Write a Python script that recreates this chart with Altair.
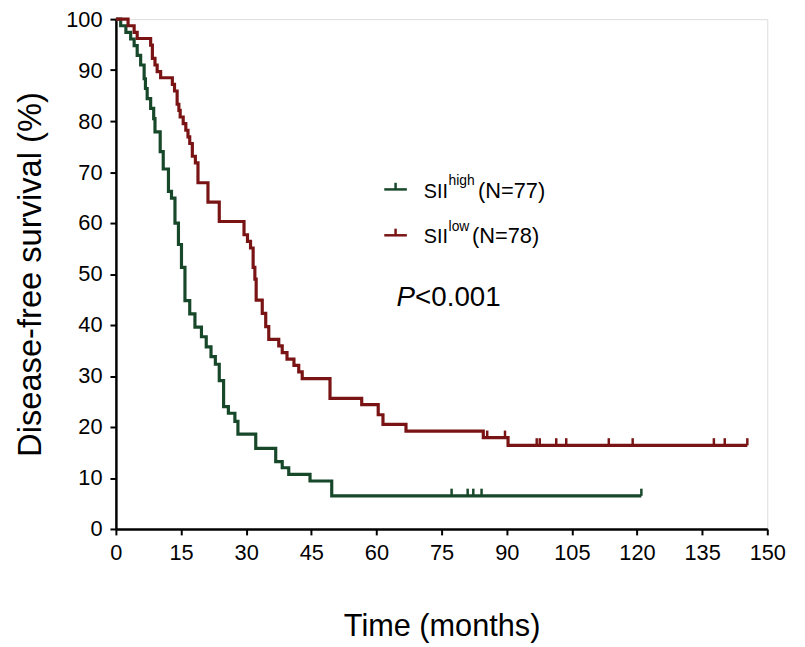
import altair as alt
import pandas as pd

# SII-high (N=77) Kaplan-Meier steps: time (months), survival (%)
high_t = [0, 1.1, 2.3, 3.4, 4.2, 4.9, 5.7, 6.5, 6.8, 7.2, 8.0, 8.7, 9.0, 10.2, 10.9, 12.1, 12.8,
          13.6, 14.4, 15.1, 15.9, 17.0, 18.2, 19.7, 20.8, 21.9, 22.9, 23.8, 24.8, 25.9, 27.4,
          28.1, 32.2, 36.8, 38.3, 39.8, 44.7, 49.7, 121.0]
high_s = [100, 98.7, 97.4, 96.1, 94.8, 92.9, 91.0, 88.3, 86.4, 84.4, 82.5, 80.5, 77.9, 74.0,
          70.6, 66.2, 64.9, 60.0, 55.8, 51.3, 44.8, 42.2, 39.6, 37.7, 35.7, 33.8, 32.3, 29.1,
          24.0, 22.7, 21.1, 18.6, 15.8, 13.2, 12.0, 10.7, 9.4, 6.5, 6.5]
high_censor_t = [77.3, 81.0, 82.3, 84.2, 121.0]
high_censor_s = [6.5, 6.5, 6.5, 6.5, 6.5]

# SII-low (N=78)
low_t = [0, 2.8, 4.2, 4.9, 8.0, 8.4, 9.0, 9.5, 10.3, 13.0, 13.5, 14.1, 14.5, 14.8, 15.5, 16.1,
         16.6, 17.0, 17.6, 18.3, 18.9, 21.2, 23.8, 29.5, 30.3, 31.0, 31.6, 32.0, 32.3, 33.7,
         34.5, 35.2, 37.5, 38.3, 39.4, 41.0, 42.1, 42.9, 49.3, 56.6, 60.4, 61.5, 66.8, 84.6,
         90.3, 145.4]
low_s = [100, 98.7, 97.4, 96.2, 94.9, 92.3, 91.0, 89.7, 88.5, 87.2, 85.9, 83.3, 82.1, 80.8,
         79.5, 78.2, 76.9, 75.6, 73.1, 71.8, 67.9, 64.1, 60.3, 57.7, 56.4, 55.1, 51.3, 49.0,
         44.9, 42.3, 39.7, 37.2, 35.9, 34.6, 33.3, 32.1, 30.8, 29.5, 25.6, 24.4, 22.4, 20.5,
         19.2, 17.9, 16.4, 16.4]
low_censor_t = [85.5, 89.6, 96.9, 97.6, 101.4, 103.7, 113.5, 119.0, 137.7, 140.2, 145.4]
low_censor_s = [17.9, 17.9, 16.4, 16.4, 16.4, 16.4, 16.4, 16.4, 16.4, 16.4, 16.4]

groups = ["high", "low"]
colors = ["#17482a", "#7a1414"]
x_ticks = [0, 15, 30, 45, 60, 75, 90, 105, 120, 135, 150]
y_ticks = [0, 10, 20, 30, 40, 50, 60, 70, 80, 90, 100]

FONT = "Liberation Sans"

curves = pd.DataFrame(
    [{"t": t, "s": s, "g": "high"} for t, s in zip(high_t, high_s)]
    + [{"t": t, "s": s, "g": "low"} for t, s in zip(low_t, low_s)]
)
censors = pd.DataFrame(
    [{"t": t, "s": s, "s2": s + 1.4, "g": "high"} for t, s in zip(high_censor_t, high_censor_s)]
    + [{"t": t, "s": s, "s2": s + 1.4, "g": "low"} for t, s in zip(low_censor_t, low_censor_s)]
)

color = alt.Color("g:N", scale=alt.Scale(domain=groups, range=colors), legend=None)
xs = alt.Scale(domain=[0, 150], nice=False)
ys = alt.Scale(domain=[0, 100], nice=False)

base_x = alt.X("t:Q", scale=xs, title="Time (months)",
               axis=alt.Axis(values=x_ticks, grid=False, domainColor="black", domainWidth=2.5,
                             tickColor="black", tickWidth=2, tickSize=6, labelFontSize=22,
                             labelFont=FONT, labelColor="black", labelPadding=8,
                             titleFont=FONT, titleFontSize=31, titleFontWeight="normal",
                             titleColor="black", titlePadding=49, labelFlush=False))
base_y = alt.Y("s:Q", scale=ys, title="Disease-free survival (%)",
               axis=alt.Axis(values=y_ticks, grid=False, domainColor="black", domainWidth=2.5,
                             tickColor="black", tickWidth=2, tickSize=6, labelFontSize=22,
                             labelFont=FONT, labelColor="black", labelPadding=8,
                             titleFont=FONT, titleFontSize=33, titleFontWeight="normal",
                             titleColor="black", titlePadding=18))

lines = alt.Chart(curves).mark_line(interpolate="step-after", strokeWidth=3.2).encode(
    x=base_x, y=base_y, color=color, detail="g:N")

ticks = alt.Chart(censors).mark_rule(strokeWidth=2.5).encode(
    x="t:Q", y="s:Q", y2="s2:Q", color=color)

# legend (drawn in data coordinates)
leg_rows = pd.DataFrame({"g": groups, "x1": [61.8, 61.8], "x2": [67.0, 67.0],
                         "y": [66.6, 57.6], "xm": [64.4, 64.4]})
leg_rows["y2"] = leg_rows["y"] + 1.3
leg_line = alt.Chart(leg_rows).mark_rule(strokeWidth=2.5).encode(
    x="x1:Q", x2="x2:Q", y="y:Q", color=color)
leg_tick = alt.Chart(leg_rows).mark_rule(strokeWidth=2.5).encode(
    x="xm:Q", y="y:Q", y2="y2:Q", color=color)

sii_txt = pd.DataFrame({"x": [70.9, 70.9], "y": [65.0, 56.0], "label": ["SII", "SII"]})
n_txt = pd.DataFrame({"x": [83.4, 82.0], "y": [65.0, 56.0], "label": ["(N=77)", "(N=78)"]})
sup_txt = pd.DataFrame({"x": [76.6, 76.6], "y": [67.5, 58.5], "label": ["high", "low"]})

leg_sii = alt.Chart(sii_txt).mark_text(align="left", baseline="alphabetic", font=FONT,
                                       fontSize=20, color="black").encode(
    x="x:Q", y="y:Q", text="label:N")
leg_n = alt.Chart(n_txt).mark_text(align="left", baseline="alphabetic", font=FONT,
                                   fontSize=22, color="black").encode(
    x="x:Q", y="y:Q", text="label:N")
leg_sup = alt.Chart(sup_txt).mark_text(align="left", baseline="alphabetic", font=FONT,
                                       fontSize=14, color="black").encode(
    x="x:Q", y="y:Q", text="label:N")

p_df = pd.DataFrame({"x": [64.6], "y": [43.7], "label": ["P"]})
p2_df = pd.DataFrame({"x": [68.9], "y": [43.7], "label": ["<0.001"]})
p_txt = alt.Chart(p_df).mark_text(align="left", baseline="alphabetic", font=FONT, fontSize=28,
                                  fontStyle="italic", color="black").encode(
    x="x:Q", y="y:Q", text="label:N")
p2_txt = alt.Chart(p2_df).mark_text(align="left", baseline="alphabetic", font=FONT, fontSize=28,
                                    color="black").encode(
    x="x:Q", y="y:Q", text="label:N")

chart = alt.layer(lines, ticks, leg_line, leg_tick, leg_sii, leg_n, leg_sup, p_txt, p2_txt).properties(
    width=658, height=515,
    autosize=alt.AutoSizeParams(type="none"),
    padding={"left": 109, "top": 8, "right": 30, "bottom": 116},
).configure_view(stroke=None).configure(background="white")

chart.save("out.html", embed_options={"renderer": "svg", "actions": False})
